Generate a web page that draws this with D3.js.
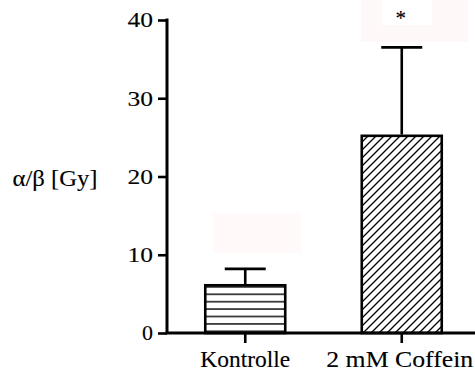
<!DOCTYPE html>
<html><head><meta charset="utf-8">
<script src="https://cdn.jsdelivr.net/npm/d3@7"></script>
<style>html,body{margin:0;padding:0;background:#fff;}svg{display:block;} text{font-family:"Times New Roman","Liberation Serif",Times,serif; stroke:#000; stroke-width:0.12px;}</style>
</head><body>
<script>
const categories = ["Kontrolle", "2 mM Coffein"];
const means = [6.1, 25.2];
const errors = [2.1, 11.3];
const yTicks = [0, 10, 20, 30, 40];
const yLabel = "α/β [Gy]";
const significance = ["", "*"];

const W = 475, H = 371;
const svg = d3.select("body").append("svg").attr("width", W).attr("height", H);

const defs = svg.append("defs");
const ph = defs.append("pattern").attr("id","hz").attr("patternUnits","userSpaceOnUse")
  .attr("width", 10).attr("height", 7.4).attr("y", 294.3 - 3.7);
ph.append("rect").attr("width",10).attr("height",7.4).attr("fill","#fff");
ph.append("line").attr("x1",0).attr("x2",10).attr("y1",3.7).attr("y2",3.7)
  .attr("stroke","#000").attr("stroke-width",1.4);
const pd = defs.append("pattern").attr("id","dg").attr("patternUnits","userSpaceOnUse")
  .attr("width", 8).attr("height", 8);
pd.append("rect").attr("width",8).attr("height",8).attr("fill","#fff");
pd.append("path").attr("d","M-2,2 L2,-2 M0,8 L8,0 M6,10 L10,6")
  .attr("stroke","#000").attr("stroke-width",1.3);

// faint artifact boxes
svg.append("rect").attr("x",213).attr("y",213).attr("width",88).attr("height",40).attr("fill","#fff9f9");
svg.append("rect").attr("x",361).attr("y",0).attr("width",107).attr("height",42).attr("fill","#fff8f8");
svg.append("rect").attr("x",382).attr("y",0).attr("width",50).attr("height",25).attr("fill","#fff");

const y = d3.scaleLinear().domain([0, 40]).range([333, 20]);
const x = d3.scaleBand().domain(categories).range([167, 480])
  .paddingInner(0.489).paddingOuter(0.2445);

// bars
const fills = ["url(#hz)", "url(#dg)"];
svg.selectAll("rect.bar").data(categories).enter().append("rect").attr("class","bar")
  .attr("x", d => x(d)).attr("width", x.bandwidth())
  .attr("y", (d,i) => y(means[i])).attr("height", (d,i) => y(0) - y(means[i]))
  .attr("fill", (d,i) => fills[i]).attr("stroke","#000").attr("stroke-width",2.6);

// error bars
const capW = 41;
categories.forEach((c,i) => {
  const cx = x(c) + x.bandwidth()/2;
  svg.append("line").attr("x1",cx).attr("x2",cx).attr("y1",y(means[i])-1.3).attr("y2",y(means[i]+errors[i]))
    .attr("stroke","#000").attr("stroke-width",2.6);
  svg.append("line").attr("x1",cx-capW/2).attr("x2",cx+capW/2)
    .attr("y1",y(means[i]+errors[i])).attr("y2",y(means[i]+errors[i]))
    .attr("stroke","#000").attr("stroke-width",2.6);
  if (significance[i]) {
    svg.append("text").attr("x",cx-1).attr("y",25).attr("text-anchor","middle")
      .attr("font-size",21).text(significance[i]);
  }
});

// y axis
const yAxis = svg.append("g").attr("transform","translate(167,0)")
  .call(d3.axisLeft(y).tickValues(yTicks).tickSize(9).tickPadding(5));
yAxis.attr("font-family", null).attr("font-size", null);
yAxis.select(".domain").attr("stroke-width",3).attr("d", `M0,${y(40)-1.5}V${y(0)}`);
yAxis.selectAll(".tick line").attr("stroke-width",2.6);
yAxis.selectAll(".tick text").attr("font-size",20.5).attr("fill","#000")
  .attr("dy","0.34em").attr("x",-14)
  .attr("textLength", d => String(d).length === 1 ? 11 : 25.5).attr("lengthAdjust","spacingAndGlyphs");

// x axis
const xAxis = svg.append("g").attr("transform",`translate(0,${y(0)})`)
  .call(d3.axisBottom(x).tickSize(10).tickPadding(4).tickFormat(() => ""));
xAxis.select(".domain").attr("stroke-width",3).attr("d","M165.5,0H480");
xAxis.selectAll(".tick line").attr("stroke-width",2.6);

const labelW = [90, 147];
categories.forEach((c,i) => {
  svg.append("text").attr("x", x(c) + x.bandwidth()/2 - (i ? 2 : 0)).attr("y", 366.5)
    .attr("text-anchor","middle").attr("font-size",23)
    .attr("textLength", labelW[i]).attr("lengthAdjust","spacingAndGlyphs").text(c);
});

svg.append("text").attr("x",55).attr("y",185.5).attr("text-anchor","middle")
  .attr("font-size",23)
  .attr("textLength",85).attr("lengthAdjust","spacingAndGlyphs").text(yLabel);
</script>
</body></html>
